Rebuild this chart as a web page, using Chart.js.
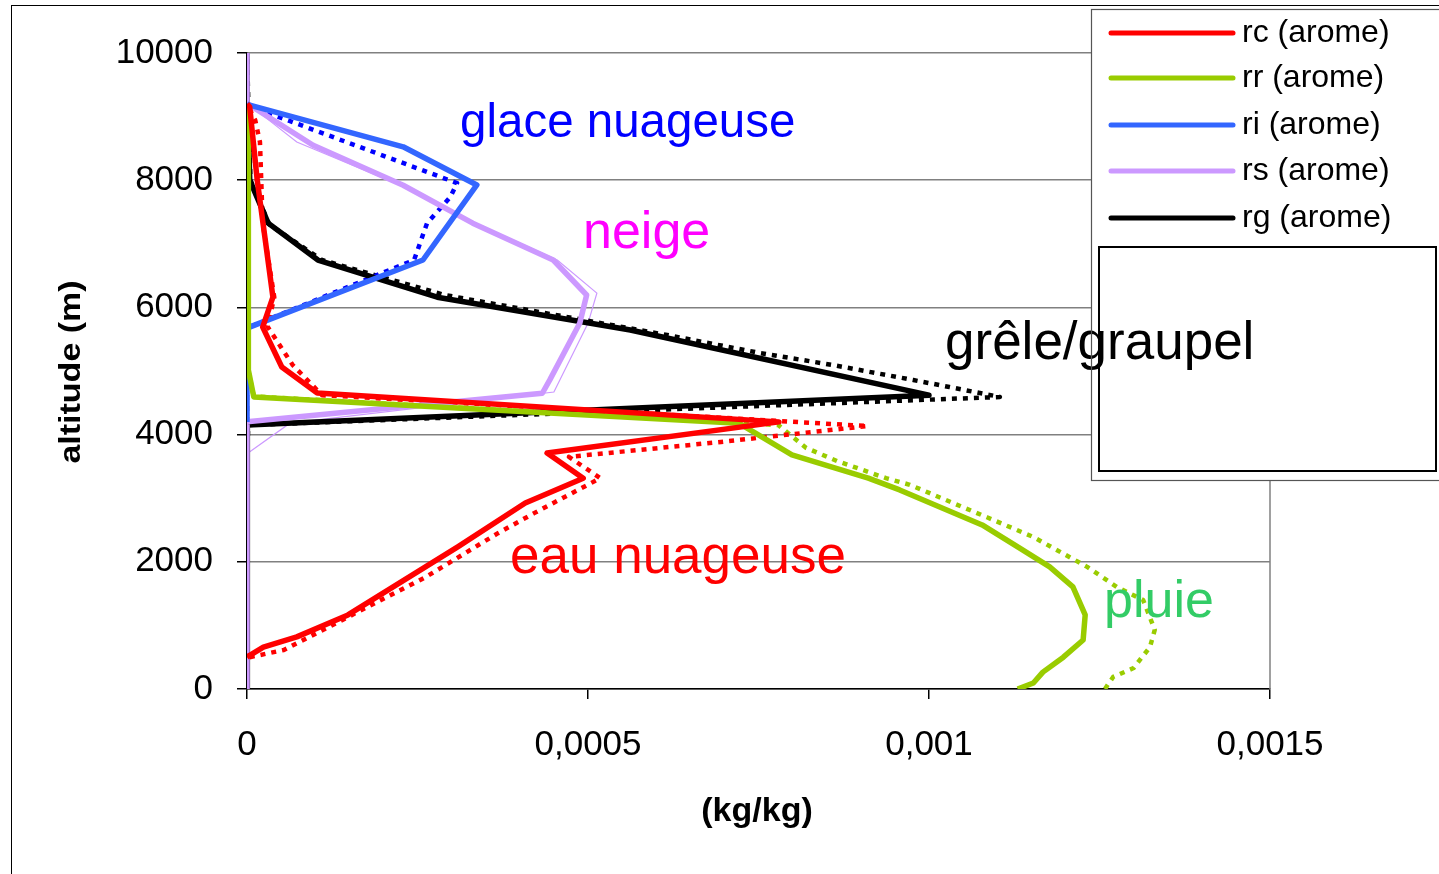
<!DOCTYPE html>
<html>
<head>
<meta charset="utf-8">
<title>Profils verticaux</title>
<script src="https://cdn.jsdelivr.net/npm/chart.js@4.4.1/dist/chart.umd.min.js"></script>
<style>
  html, body { margin: 0; padding: 0; background: #fff; overflow: hidden; }
  canvas { display: block; }
</style>
</head>
<body>
<canvas id="profilchart" width="1439" height="874"></canvas>
<script>
// altitudes (m) and mixing ratios (kg/kg), one pair of arrays per curve

// rc : cloud water
var rcAlt = [500, 530, 660, 820, 1165, 2235, 2925, 3315, 3710, 4200, 4654, 5063, 5690, 6160, 8000, 9150, 9200];
var rcVal = [0, 0.000004, 0.000024, 0.000073, 0.000148, 0.000309, 0.000408, 0.000493, 0.00044, 0.00078, 0.000103, 0.000051, 0.000023, 0.000038, 0.000015, 0.000004, 0];
var rcAlt2 = [500, 613, 1760, 2450, 2765, 3315, 3650, 3885, 4135, 4620, 5094, 5700, 6160, 7325, 8600, 8946, 9200];
var rcVal2 = [0.000004, 0.000054, 0.000262, 0.000368, 0.000421, 0.000518, 0.000472, 0.000695, 0.00091, 0.00011, 0.000067, 0.00003, 0.00004, 0.000023, 0.000019, 0.000012, 0];

// rr : rain
var rrAlt = [0, 95, 265, 500, 770, 1165, 1605, 1920, 2215, 2580, 3130, 3315, 3680, 4180, 4590, 5015, 9000, 9200];
var rrVal = [0.00113, 0.001153, 0.001167, 0.001197, 0.001226, 0.001229, 0.001211, 0.001177, 0.001133, 0.001078, 0.000957, 0.000911, 0.000799, 0.000721, 0.00001, 0.000002, 0.000002, 0];
var rrAlt2 = [0, 190, 330, 660, 930, 1400, 1600, 1920, 2390, 2700, 3210, 3315, 3585, 3790, 4150, 4600, 5000, 9000, 9200];
var rrVal2 = [0.001258, 0.00127, 0.0013, 0.001324, 0.001331, 0.001314, 0.001276, 0.001232, 0.001153, 0.001085, 0.000972, 0.000937, 0.000865, 0.00082, 0.000779, 0.00001, 0.000002, 0.000002, 0];

// ri : cloud ice
var riAlt = [4200, 5675, 6745, 7925, 8525, 9180, 9200];
var riVal = [0, 0, 0.000258, 0.000337, 0.000229, 0.000004, 0];
var riAlt2 = [4200, 5675, 6745, 7325, 7735, 7955, 9180];
var riVal2 = [0, 0, 0.000245, 0.000264, 0.000298, 0.000308, 0];

// rs : snow
var rsAlt = [0, 4200, 4650, 4860, 5755, 6195, 6745, 7325, 7920, 8550, 9180, 9200, 10000];
var rsVal = [0, 0, 0.000433, 0.000444, 0.000488, 0.000498, 0.000449, 0.000331, 0.000229, 0.000097, 0.000004, 0, 0];
var rsAlt2 = [3700, 4180, 4670, 5750, 6225, 6745, 7325, 7920, 8600, 9180, 9200];
var rsVal2 = [0, 0.000063, 0.00045, 0.0005, 0.000513, 0.000455, 0.000335, 0.000225, 0.000073, 0.000004, 0];

// rg : graupel
var rgAlt = [0, 3710, 4150, 4620, 5645, 6160, 6745, 7325, 8000, 9200, 10000];
var rgVal = [0, 0, 0.000001, 0.001, 0.000562, 0.000279, 0.000104, 0.000031, 0.000004, 0.000001, 0];
var rgAlt2 = [0, 3710, 4150, 4591, 4748, 4858, 5094, 5283, 5566, 6195, 6745, 7300, 8000, 9200, 10000];
var rgVal2 = [0, 0, 0.000002, 0.001104, 0.00103, 0.000977, 0.000859, 0.000752, 0.000616, 0.00029, 0.00011, 0.000033, 0.000005, 0.000002, 0];

var legendLabels = ['rc (arome)', 'rr (arome)', 'ri (arome)', 'rs (arome)', 'rg (arome)'];
var xTickLabels = ['0', '0,0005', '0,001', '0,0015'];
var yTickLabels = ['0', '2000', '4000', '6000', '8000', '10000'];

var notes = [
    { text: 'glace nuageuse', color: '#0000ff', x: 460, y: 137, size: 47.5 },
    { text: 'neige', color: '#ff00ff', x: 583, y: 248, size: 52 },
    { text: 'grêle/graupel', color: '#000000', x: 945, y: 359, size: 53 },
    { text: 'eau nuageuse', color: '#ff0000', x: 510, y: 573, size: 53 },
    { text: 'pluie', color: '#33cc66', x: 1104, y: 617, size: 52 }
];

var font = '"Liberation Sans", Arial, sans-serif';

function points(alt, val) {
    var out = [];
    for (var i = 0; i < alt.length; i++) {
        out.push({ x: val[i], y: alt[i] });
    }
    return out;
}

function solid(label, alt, val, colour) {
    return { label: label, data: points(alt, val), borderColor: colour, borderWidth: 5.5,
             borderJoinStyle: 'round', showLine: true, pointRadius: 0, tension: 0, order: 0, legend: true };
}

function dotted(alt, val, colour) {
    return { label: '', data: points(alt, val), borderColor: colour, borderWidth: 4.5,
             borderDash: [5, 6], borderJoinStyle: 'round', showLine: true, pointRadius: 0, tension: 0, order: 1 };
}

function thin(alt, val, colour) {
    return { label: '', data: points(alt, val), borderColor: colour, borderWidth: 1.2,
             showLine: true, pointRadius: 0, tension: 0, order: 2 };
}

var datasets = [
    solid(legendLabels[0], rcAlt, rcVal, '#ff0000'),
    solid(legendLabels[1], rrAlt, rrVal, '#99cc00'),
    solid(legendLabels[2], riAlt, riVal, '#3366ff'),
    solid(legendLabels[3], rsAlt, rsVal, '#cc99ff'),
    solid(legendLabels[4], rgAlt, rgVal, '#000000'),
    dotted(rcAlt2, rcVal2, '#ff0000'),
    dotted(rrAlt2, rrVal2, '#99cc00'),
    dotted(riAlt2, riVal2, '#0000ff'),
    thin(rsAlt2, rsVal2, '#cc99ff'),
    dotted(rgAlt2, rgVal2, '#000000')
];

// legend box, curve names and axis titles
var decor = {
    id: 'decor',
    afterDraw: function(chart) {
        var ctx = chart.ctx;
        var area = chart.chartArea;

        ctx.save();

        // right edge of the plot area
        ctx.strokeStyle = '#808080';
        ctx.lineWidth = 1.5;
        ctx.beginPath();
        ctx.moveTo(area.right, area.top);
        ctx.lineTo(area.right, area.bottom);
        ctx.stroke();

        // axis titles
        ctx.fillStyle = '#000';
        ctx.textBaseline = 'alphabetic';
        ctx.font = 'bold 34px ' + font;
        ctx.textAlign = 'center';
        ctx.fillText('(kg/kg)', 757, 821);
        ctx.save();
        ctx.translate(80, 372);
        ctx.rotate(-Math.PI / 2);
        ctx.scale(1, 0.86);
        ctx.fillText('altitude (m)', 0, 0);
        ctx.restore();

        // legend background
        ctx.fillStyle = '#fff';
        ctx.fillRect(1092, 10, 360, 471);

        // curve names
        ctx.textAlign = 'left';
        notes.forEach(function(n) {
            ctx.fillStyle = n.color;
            ctx.font = n.size + 'px ' + font;
            ctx.fillText(n.text, n.x, n.y);
        });

        // legend frames
        ctx.strokeStyle = '#555';
        ctx.lineWidth = 1.2;
        ctx.strokeRect(1091.5, 9.5, 400, 471);
        ctx.strokeStyle = '#000';
        ctx.lineWidth = 2;
        ctx.strokeRect(1099, 247, 337, 224);

        // legend entries
        ctx.font = '32px ' + font;
        ctx.lineCap = 'round';
        var rowY = [33, 78, 125, 171, 218];
        var k = 0;
        chart.data.datasets.forEach(function(ds) {
            if (!ds.legend) return;
            var y = rowY[k++];
            ctx.strokeStyle = ds.borderColor;
            ctx.lineWidth = 5;
            ctx.beginPath();
            ctx.moveTo(1111, y);
            ctx.lineTo(1233, y);
            ctx.stroke();
            ctx.fillStyle = '#000';
            ctx.fillText(ds.label, 1242, y + 9);
        });

        // outer frame
        ctx.strokeStyle = '#000';
        ctx.lineWidth = 1;
        ctx.strokeRect(11.5, 5.5, 1500, 1000);

        ctx.restore();
    }
};

var ctx = document.getElementById('profilchart').getContext('2d');
var profilChart = new Chart(ctx, {
    type: 'scatter',
    data: { datasets: datasets },
    options: {
        responsive: false,
        animation: false,
        devicePixelRatio: 1,
        layout: { padding: { top: 53, right: 169, left: 0, bottom: 0 } },
        plugins: {
            legend: { display: false },
            tooltip: { enabled: false }
        },
        scales: {
            x: {
                type: 'linear',
                min: 0,
                max: 0.0015,
                afterFit: function(scale) { scale.height = 185; },
                afterBuildTicks: function(scale) {
                    scale.ticks = [0, 0.0005, 0.001, 0.0015].map(function(v) { return { value: v }; });
                },
                ticks: {
                    color: '#000',
                    padding: 25,
                    maxRotation: 0,
                    font: { family: font, size: 35 },
                    callback: function(v, i) { return xTickLabels[i]; }
                },
                grid: { drawOnChartArea: false, tickColor: '#000', tickLength: 10, lineWidth: 1.5 },
                border: { color: '#000', width: 1.5 }
            },
            y: {
                type: 'linear',
                min: 0,
                max: 10000,
                afterFit: function(scale) { scale.width = 247; },
                afterBuildTicks: function(scale) {
                    scale.ticks = [0, 2000, 4000, 6000, 8000, 10000].map(function(v) { return { value: v }; });
                },
                ticks: {
                    color: '#000',
                    padding: 24,
                    font: { family: font, size: 35 },
                    callback: function(v, i) { return yTickLabels[i]; }
                },
                grid: { color: '#808080', lineWidth: 1.5, tickColor: '#000', tickLength: 10 },
                border: { color: '#000', width: 1.5 }
            }
        }
    },
    plugins: [decor]
});
</script>
</body>
</html>
